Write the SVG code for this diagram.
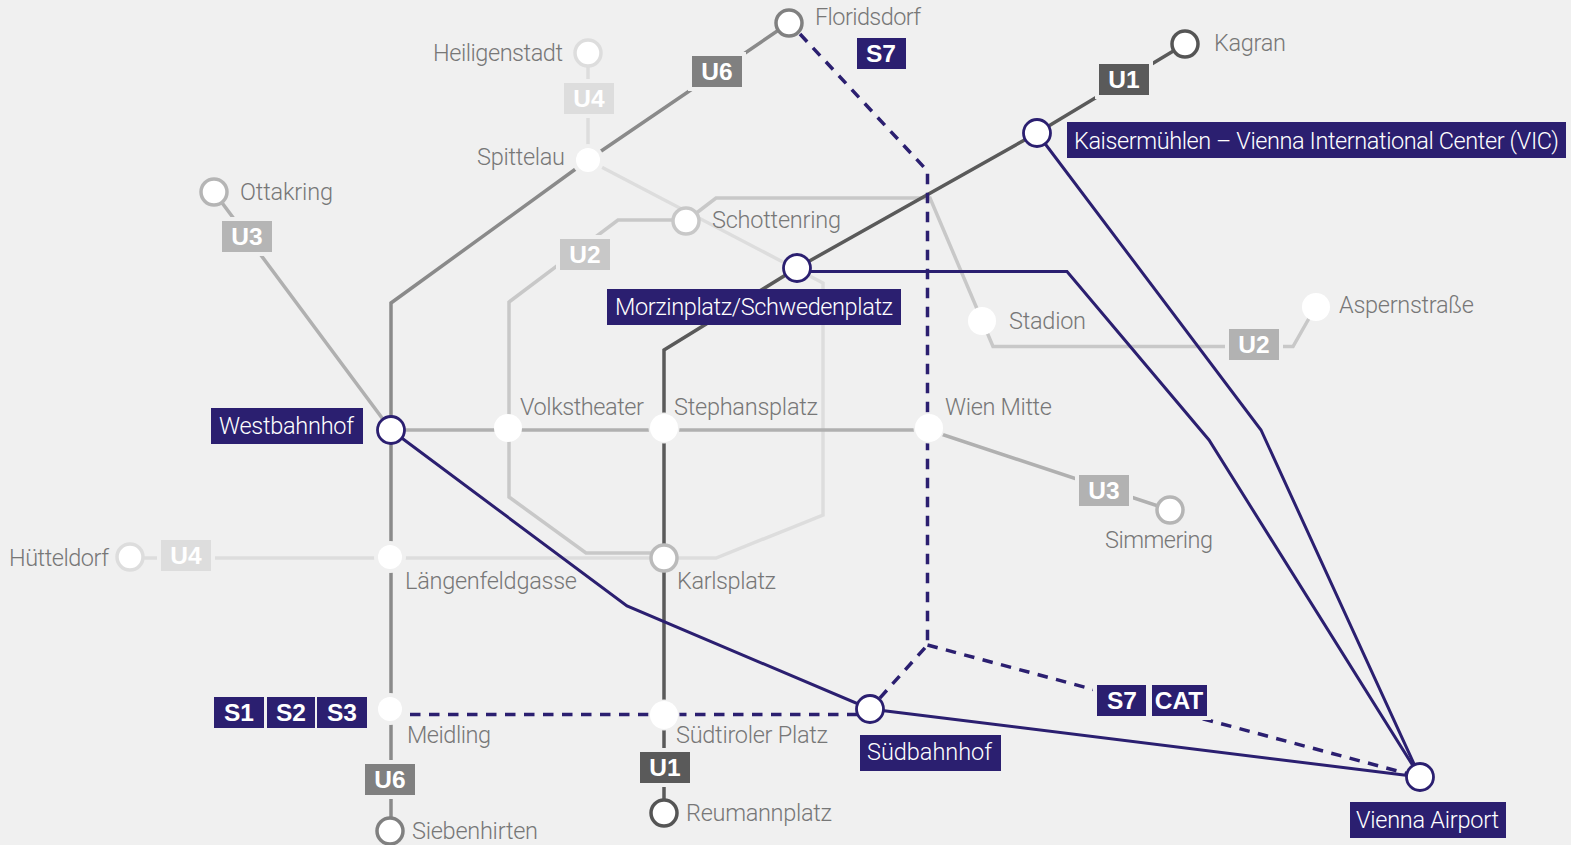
<svg xmlns="http://www.w3.org/2000/svg" width="1571" height="845" viewBox="0 0 1571 845">
<style>
text{font-family:"Roboto","Liberation Sans",sans-serif}
.n{font-size:23.5px;font-weight:300;fill:#777}
.w{font-size:23.5px;font-weight:300;fill:#fff}
.b{font-size:24.5px;font-weight:700;fill:#fff;text-anchor:middle;font-family:"Liberation Sans",sans-serif}
.l{fill:none;stroke-width:3.5;stroke-linejoin:miter}
.nv{fill:none;stroke:#2b1f70;stroke-width:3}
.ds{fill:none;stroke:#2b1f70;stroke-width:3.5;stroke-dasharray:10.5 8.5}
.st{fill:#fff;stroke-width:3.5}
.sn{fill:#fff;stroke:#2b1f70;stroke-width:2.8}
.p{fill:#fff}
.h{fill:#fff;stroke:#f0f0f0;paint-order:stroke}
.r{stroke:#f0f0f0;stroke-width:8;paint-order:stroke}
.nb{fill:#2b1f70}
</style>
<rect width="1571" height="845" fill="#f0f0f0"/>
<g id="connectors">
<path class="l" stroke="#ddd" d="M588 52V160L823 283V515L716 558H130"/>
<path class="l" stroke="#c8c8c8" d="M686 220H618L509 302V497L586 553H664"/>
<path class="l" stroke="#c8c8c8" d="M686 221L716 198H930L993 346.500H1293L1316 306"/>
<path class="l" stroke="#b0b0b0" d="M214 192L391 430H929L1170 510"/>
<path class="l" stroke="#8a8a8a" d="M789 23L588 160L391 303V830"/>
<path class="l" stroke="#5a5a5a" d="M1185 44L1037 133L797 268L664 350V813"/>
<path class="ds" d="M800 34L927.500 171V645L870 709"/>
<path class="ds" d="M410 714.500H870"/>
<path class="ds" d="M927.500 645L1420 777"/>
<path class="nv" d="M391 430L627 606L870 709L1420 777"/>
<path class="nv" d="M1037 133L1261 430L1420 777"/>
<path class="nv" d="M797 271.500H1067L1209 440L1420 777"/>
</g>
<g id="badges">
<rect class="r" x="692" y="56" width="50" height="31" fill="#808080"/><text class="b" x="717" y="80">U6</text>
<rect class="r" x="564" y="83" width="50" height="31" fill="#ddd"/><text class="b" x="589" y="107">U4</text>
<rect class="r" x="222" y="221" width="50" height="31" fill="#b5b5b5"/><text class="b" x="247" y="245">U3</text>
<rect class="r" x="560" y="239" width="50" height="31" fill="#c8c8c8"/><text class="b" x="585" y="263">U2</text>
<rect class="r" x="1229" y="329" width="50" height="31" fill="#b2b2b2"/><text class="b" x="1254" y="353">U2</text>
<rect class="r" x="1079" y="475" width="50" height="31" fill="#b2b2b2"/><text class="b" x="1104" y="499">U3</text>
<rect class="r" x="161" y="540" width="50" height="31" fill="#ddd"/><text class="b" x="186" y="564">U4</text>
<rect class="r" x="365" y="764" width="50" height="31" fill="#808080"/><text class="b" x="390" y="788">U6</text>
<rect class="r" x="640" y="752" width="50" height="31" fill="#5a5a5a"/><text class="b" x="665" y="776">U1</text>
<rect class="r" x="1099" y="64" width="50" height="31" fill="#5a5a5a"/><text class="b" x="1124" y="88">U1</text>
<rect class="nb" x="857" y="38" width="49" height="31"/><text class="b" x="881" y="62">S7</text>
<rect class="nb" x="214" y="697" width="50" height="31"/><text class="b" x="239" y="721">S1</text>
<rect class="nb" x="267" y="697" width="48" height="31"/><text class="b" x="291" y="721">S2</text>
<rect class="nb" x="317" y="697" width="50" height="31"/><text class="b" x="342" y="721">S3</text>
<rect class="r" x="1097" y="685" width="110" height="31" fill="#f0f0f0"/>
<rect class="nb" x="1097" y="685" width="49" height="31"/><text class="b" x="1122" y="709">S7</text>
<rect class="nb" x="1152" y="685" width="55" height="31"/><text class="b" x="1179" y="709">CAT</text>
</g>
<g id="n-floridsdorf"><circle class="st" cx="789" cy="23" r="13" stroke="#808080"/><text class="n" x="815" y="25" textLength="106">Floridsdorf</text></g>
<g id="n-heiligenstadt"><circle class="st" cx="588" cy="53" r="13" stroke="#ddd"/><text class="n" x="433" y="61" textLength="130">Heiligenstadt</text></g>
<g id="n-spittelau"><circle class="h" stroke-width="8" cx="588" cy="160" r="12"/><text class="n" x="477" y="165" textLength="88">Spittelau</text></g>
<g id="n-ottakring"><circle class="st" cx="214" cy="192" r="13" stroke="#b5b5b5"/><text class="n" x="240" y="200" textLength="93">Ottakring</text></g>
<g id="n-schottenring"><circle class="st" cx="686" cy="221" r="13" stroke="#c8c8c8"/><text class="n" x="712" y="228" textLength="129">Schottenring</text></g>
<g id="n-kagran"><circle class="st" cx="1185" cy="44" r="13" stroke="#555"/><text class="n" x="1214" y="51" textLength="72">Kagran</text></g>
<g id="n-kaisermuehlen"><circle class="sn" cx="1037" cy="133" r="13.500"/><rect class="nb" x="1067" y="122" width="499" height="36"/><text class="w" x="1074" y="149" textLength="485">Kaisermühlen – Vienna International Center (VIC)</text></g>
<g id="n-morzinplatz"><circle class="sn" cx="797" cy="268" r="13.500"/><rect class="nb" x="607" y="289" width="294" height="36"/><text class="w" x="615" y="315" textLength="278">Morzinplatz/Schwedenplatz</text></g>
<g id="n-stadion"><circle class="p" cx="982" cy="321" r="14"/><text class="n" x="1009" y="329" textLength="77">Stadion</text></g>
<g id="n-aspern"><circle class="p" cx="1316" cy="307" r="14"/><text class="n" x="1339" y="313" textLength="135">Aspernstraße</text></g>
<g id="n-westbahnhof"><circle class="sn" cx="391" cy="430" r="13.500"/><rect class="nb" x="211" y="408" width="152" height="36"/><text class="w" x="219" y="434" textLength="135">Westbahnhof</text></g>
<g id="n-volkstheater"><circle class="p" cx="508" cy="428" r="14"/><text class="n" x="520" y="415" textLength="124">Volkstheater</text></g>
<g id="n-stephansplatz"><circle class="h" stroke-width="3" cx="664" cy="428" r="14"/><text class="n" x="674" y="415" textLength="144">Stephansplatz</text></g>
<g id="n-wienmitte"><circle class="h" stroke-width="3" cx="929" cy="428" r="14"/><text class="n" x="945" y="415" textLength="107">Wien Mitte</text></g>
<g id="n-simmering"><circle class="st" cx="1170" cy="510" r="13" stroke="#b5b5b5"/><text class="n" x="1105" y="548" textLength="108">Simmering</text></g>
<g id="n-laengenfeld"><circle class="h" stroke-width="8" cx="390" cy="557" r="12"/><text class="n" x="405" y="589" textLength="172">Längenfeldgasse</text></g>
<g id="n-karlsplatz"><circle class="st" cx="664" cy="558" r="13" stroke="#bbb"/><text class="n" x="677" y="589" textLength="99">Karlsplatz</text></g>
<g id="n-huetteldorf"><circle class="st" cx="130" cy="557" r="13" stroke="#ddd"/><text class="n" x="9" y="566" textLength="100">Hütteldorf</text></g>
<g id="n-meidling"><circle class="h" stroke-width="8" cx="390" cy="709" r="12"/><text class="n" x="407" y="743" textLength="84">Meidling</text></g>
<g id="n-suedtiroler"><circle class="h" stroke-width="3" cx="664" cy="715" r="14"/><text class="n" x="676" y="743" textLength="152">Südtiroler Platz</text></g>
<g id="n-suedbahnhof"><circle class="sn" cx="870" cy="709" r="13.500"/><rect class="nb" x="860" y="735" width="141" height="36"/><text class="w" x="867" y="760" textLength="125">Südbahnhof</text></g>
<g id="n-airport"><circle class="sn" cx="1420" cy="777" r="13.500"/><rect class="nb" x="1350" y="802" width="156" height="36"/><text class="w" x="1356" y="828" textLength="143">Vienna Airport</text></g>
<g id="n-siebenhirten"><circle class="st" cx="390" cy="831" r="13" stroke="#808080"/><text class="n" x="412" y="839" textLength="126">Siebenhirten</text></g>
<g id="n-reumannplatz"><circle class="st" cx="664" cy="813" r="13" stroke="#555"/><text class="n" x="686" y="821" textLength="146">Reumannplatz</text></g>
</svg>
